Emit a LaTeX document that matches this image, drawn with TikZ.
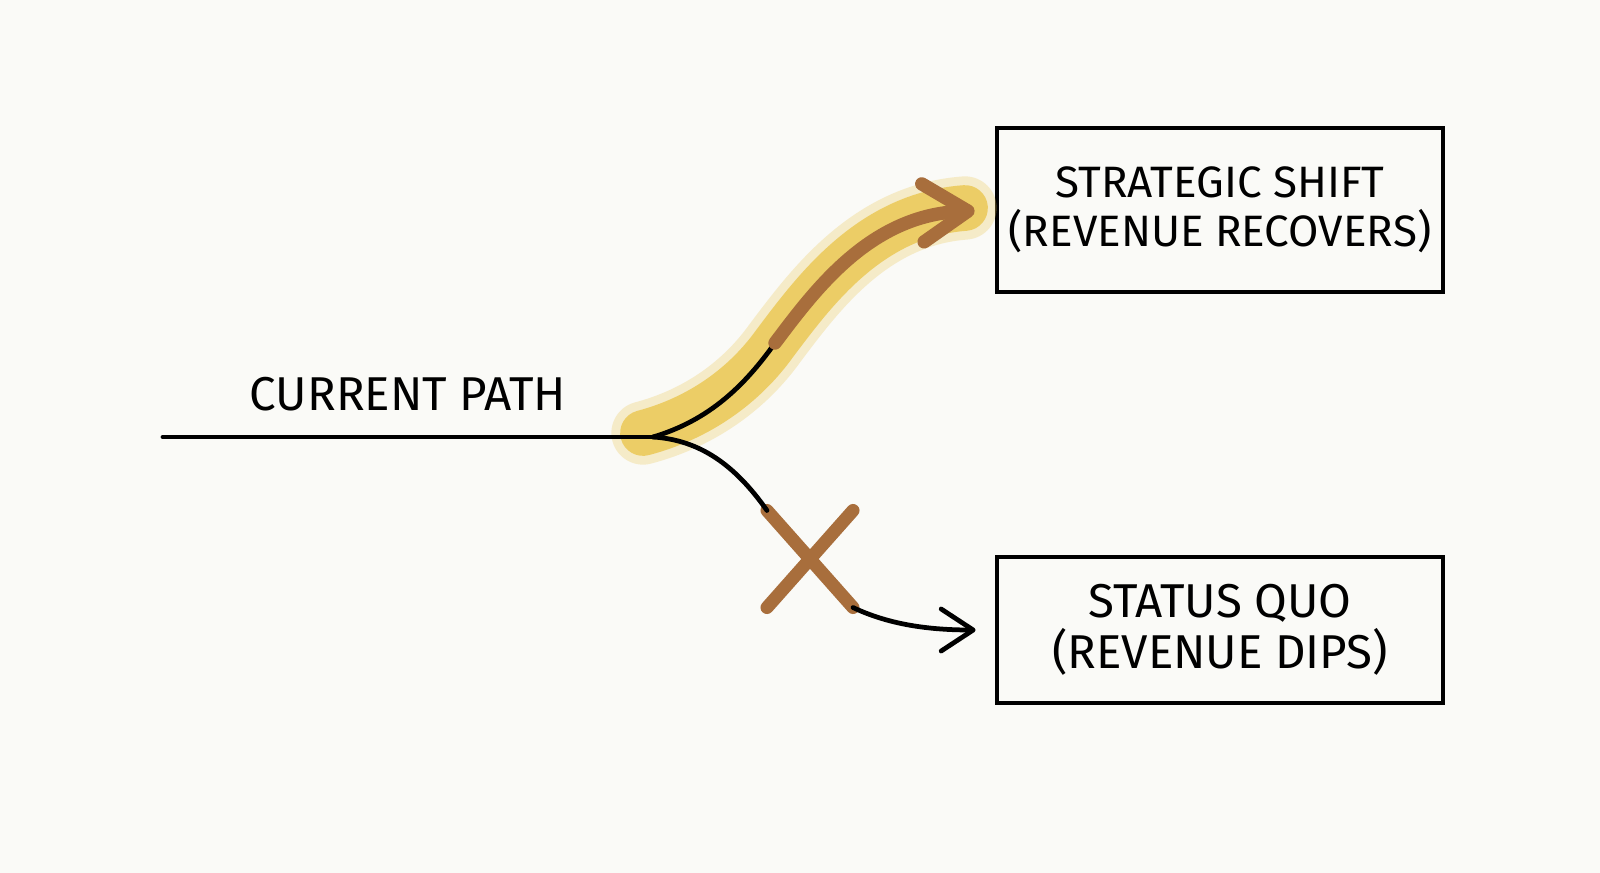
\documentclass[tikz,border=0pt]{standalone}
\usepackage{fontspec}
\setmainfont{Fira Sans}
\usetikzlibrary{positioning,calc,arrows.meta,shapes.misc}
\definecolor{paper}{RGB}{250,250,247}
\definecolor{glow}{RGB}{236,202,92}
\definecolor{rust}{RGB}{168,110,60}
\tikzset{
  outcome/.style={draw, line width=1.3pt, minimum width=4.46cm, align=center,
    font=\fontsize{12.5}{14}\selectfont},
  branch/.style={line width=1.35pt, line cap=round},
  openarrow/.style={-{Straight Barb[length=3.2mm,width=4.2mm,round]}},
}
\begin{document}
\begin{tikzpicture}[x=0.01cm, y=-0.01cm]
      \fill[paper] (0,0) rectangle (1600,873);
      \useasboundingbox (0,0) rectangle (1600,873);

      \node (shift) [outcome, minimum height=1.64cm] at (1220,210) {STRATEGIC SHIFT\\(REVENUE RECOVERS)};
      \node (quo) [outcome, minimum height=1.46cm, font=\fontsize{13.5}{14.5}\selectfont] at (1220,630) {STATUS QUO\\(REVENUE DIPS)};
      \coordinate (start) at (163,437);
      \coordinate (fork) at (653,437);
      \coordinate (bend) at (775,343);
      \node (cross) [cross out, draw=rust, line width=3.7pt, line cap=round,
        inner sep=0pt, outer sep=0pt, minimum width=0.86cm, minimum height=0.97cm] at (810,559) {};

      % highlighted route
      \draw[glow, line width=18pt, line cap=round, opacity=0.3]
        (643,433) .. controls (700,418) and (745,385) .. (bend)
        .. controls (815,290) and (870,215) .. (965,208);
      \draw[glow, line width=13pt, line cap=round, opacity=0.9]
        (643,433) .. controls (700,418) and (745,385) .. (bend)
        .. controls (815,290) and (870,215) .. (965,208);

      \draw[branch] (start) -- node[above=0.12cm, font=\fontsize{13.5}{15}\selectfont] (current) {CURRENT PATH} (fork);
      \draw[branch] (fork) .. controls (710,420) and (745,385) .. (bend);
      \draw[rust, line width=3.8pt, line cap=round, -{Straight Barb[length=4.5mm,width=5.8mm,round]}, shorten >=0.2cm]
        (bend) .. controls (815,290) and (870,215) .. (shift.west);
      \draw[branch] (fork) .. controls (700,440) and (735,465) .. (cross.north west);
      \draw[branch, openarrow, shorten >=0.19cm] (cross.south east) .. controls (890,625) and (930,630) .. (quo.west);
    \end{tikzpicture}
\end{document}
